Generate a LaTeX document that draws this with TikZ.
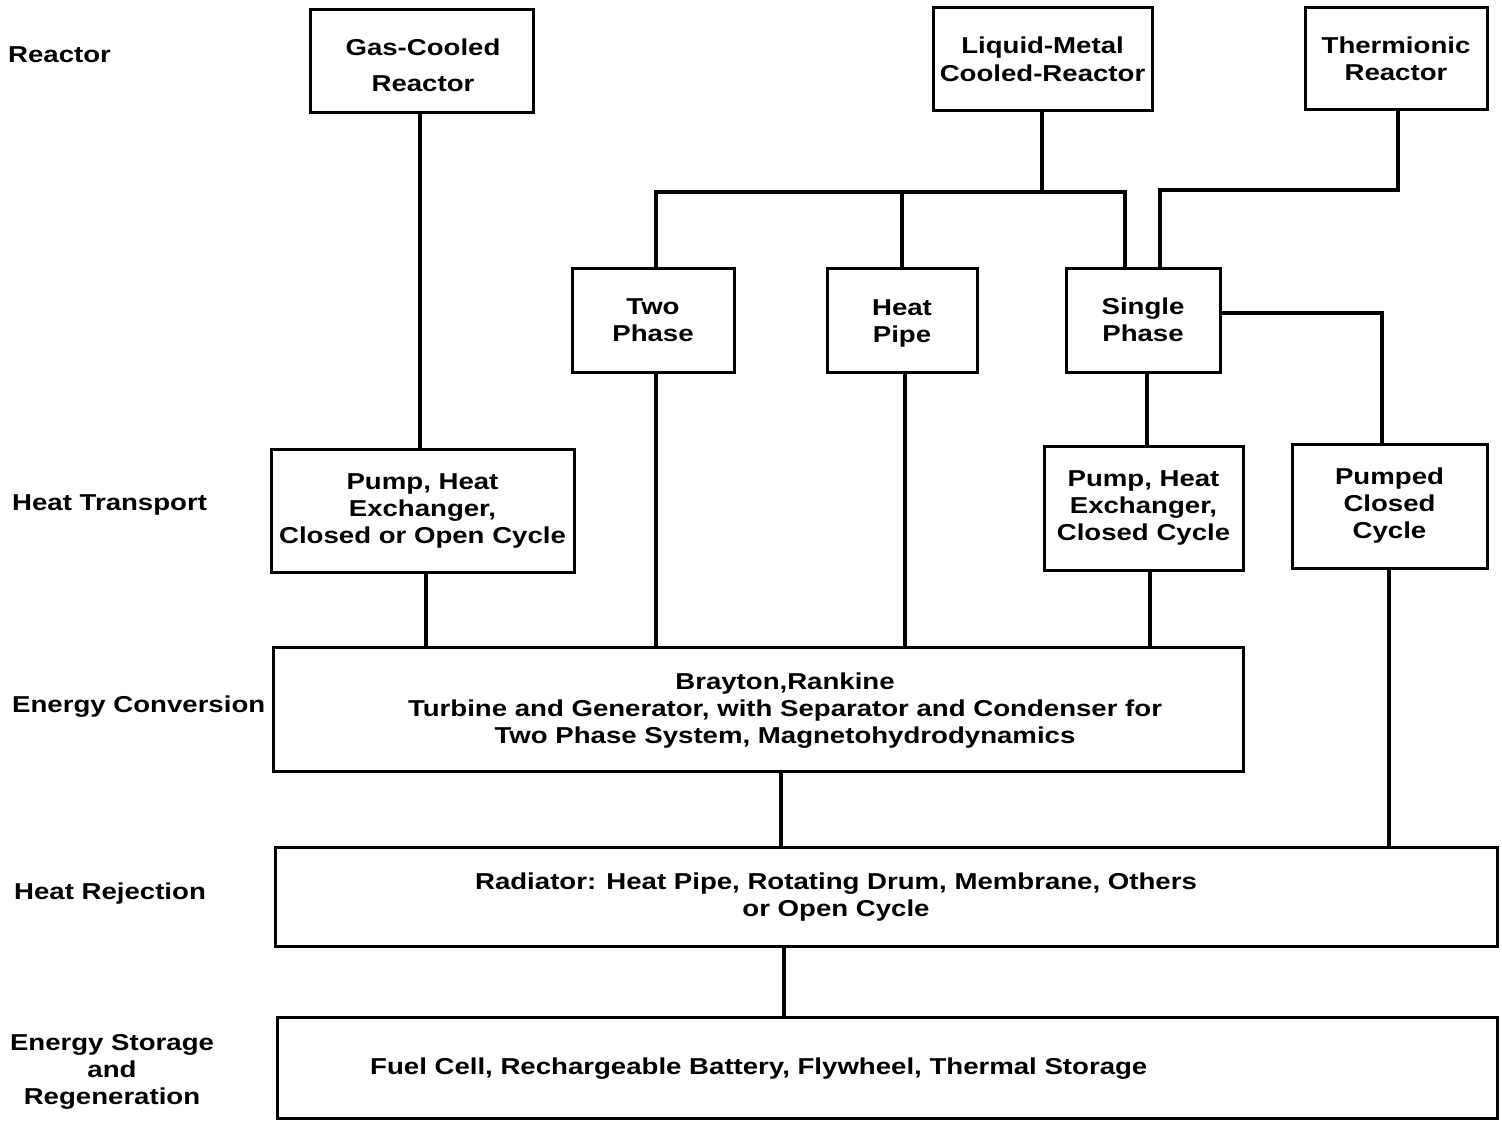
\documentclass[tikz,border=0pt]{standalone}
\usepackage{fontspec}
\setmainfont{Liberation Sans}[FakeStretch=1.2]
\begin{document}
\begin{tikzpicture}[x=1pt,y=-1pt,
  box/.style={draw, line width=3pt, inner sep=0pt, align=center, font=\fontsize{23}{27}\selectfont\bfseries},
  lab/.style={inner sep=0pt, font=\fontsize{23}{27}\selectfont\bfseries},
  wire/.style={line width=4pt}]
\useasboundingbox (0,0) rectangle (1502,1121);
% reactors
\node[box, minimum width=223, minimum height=103] (gcr) at (421.5,61.5) {};
\node[lab, align=center, font=\fontsize{23}{36}\selectfont\bfseries] (gcrt) at (423,65) {Gas-Cooled\\Reactor};
\node[box, minimum width=219, minimum height=103, font=\fontsize{23}{28}\selectfont\bfseries] (lmr) at (1042.5,59.5) {Liquid-Metal\\Cooled-Reactor};
\node[box, minimum width=182, minimum height=102] (thr) at (1396,59) {Thermionic\\Reactor};
% middle
\node[box, minimum width=162, minimum height=104] (two) at (653,320) {Two\\Phase};
\node[box, minimum width=150, minimum height=104] (hp) at (902,320) {};
\node[lab, align=center] (hpt) at (902,323) {Heat\\Pipe};
\node[box, minimum width=154, minimum height=104] (sp) at (1143,320) {Single\\Phase};
% heat transport
\node[box, minimum width=303, minimum height=123] (phl) at (422.5,510.5) {Pump, Heat\\Exchanger,\\Closed or Open Cycle};
\node[box, minimum width=199, minimum height=124] (phr) at (1143.5,508) {Pump, Heat\\Exchanger,\\Closed Cycle};
\node[box, minimum width=195, minimum height=124] (pcc) at (1389.5,506) {Pumped\\Closed\\Cycle};
% big boxes
\node[box, minimum width=970, minimum height=124] (ec) at (758,709) {};
\node[lab, align=center] (ect) at (785,711) {Brayton,Rankine\\Turbine and Generator, with Separator and Condenser for\\Two Phase System, Magnetohydrodynamics};
\node[box, minimum width=1222, minimum height=99] (hr) at (886,896.5) {};
\node[lab, align=center] (hrt) at (836,897) {Radiator: Heat Pipe, Rotating Drum, Membrane, Others\\or Open Cycle};
\node[box, minimum width=1220, minimum height=101] (es) at (887,1067.5) {};
\node[lab, anchor=west] (est) at (370,1069) {Fuel Cell, Rechargeable Battery, Flywheel, Thermal Storage};
% left labels
\node[lab, anchor=west] (l1) at (8,55) {Reactor};
\node[lab, anchor=west] (l2) at (12,505) {Heat Transport};
\node[lab, anchor=west] (l3) at (12,707) {Energy Conversion};
\node[lab, anchor=west] (l4) at (14,894) {Heat Rejection};
\node[lab, align=center] (l5) at (112,1072) {Energy Storage\\and\\Regeneration};
% connectors
\coordinate (j1) at (1042,192);
\coordinate (j2) at (656,192);
\coordinate (j3) at (1125,192);
\coordinate (j4) at (1398,190);
\coordinate (j5) at (1160,190);
\coordinate (j6) at (1382,313);
\draw[wire] (gcr.south -| 420,0) -- (phl.north -| 420,0);
\draw[wire] (phl.south -| 426,0) -- (ec.north -| 426,0);
\draw[wire] (lmr.south -| j1) -- (j1);
\draw[wire] (j2 |- two.north) -- (j2) -- (j3) -- (j3 |- sp.north);
\draw[wire] (hp.north -| 902,0) -- (902,192);
\draw[wire] (thr.south -| j4) -- (j4) -- (j5) -- (j5 |- sp.north);
\draw[wire] (sp.east |- j6) -- (j6) -- (j6 |- pcc.north);
\draw[wire] (sp.south -| 1147,0) -- (phr.north -| 1147,0);
\draw[wire] (two.south -| 656,0) -- (ec.north -| 656,0);
\draw[wire] (hp.south -| 905,0) -- (ec.north -| 905,0);
\draw[wire] (phr.south -| 1150,0) -- (ec.north -| 1150,0);
\draw[wire] (ec.south -| 781,0) -- (hr.north -| 781,0);
\draw[wire] (pcc.south -| 1389,0) -- (hr.north -| 1389,0);
\draw[wire] (hr.south -| 784,0) -- (es.north -| 784,0);
\end{tikzpicture}
\end{document}
